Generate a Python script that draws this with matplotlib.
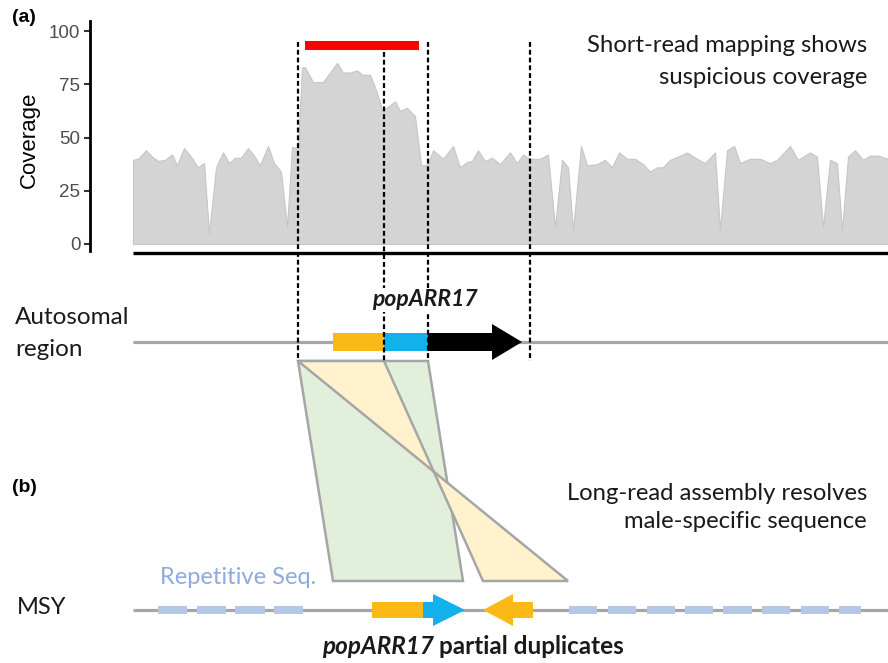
import matplotlib
matplotlib.use("Agg")
import matplotlib.pyplot as plt
from matplotlib.patches import Polygon

# ---------------- data ----------------
# coverage profile (position along region, coverage)
cov_pos = [133, 138, 146, 152, 158, 165, 172, 177, 184, 191, 198, 204, 209, 216,
           223, 229, 235, 241, 248, 254, 260, 268, 274, 281, 287, 292, 298, 302,
           305, 313, 323, 337, 343, 350, 357, 362, 370, 377, 382, 387, 395, 400,
           407, 415, 421, 427, 433, 443, 453, 460, 467, 472, 478, 485, 492, 500,
           510, 517, 523, 530, 540, 548, 555, 562, 568, 573, 581, 587, 597, 605,
           612, 619, 627, 635, 643, 650, 657, 663, 670, 678, 687, 697, 705, 715,
           720, 727, 734, 740, 750, 760, 770, 777, 790, 798, 803, 810, 817, 823,
           830, 837, 842, 848, 855, 863, 870, 878, 888]
cov_val = [39.5, 40, 44, 41, 39, 39.5, 42, 37, 45, 41, 36, 38, 5, 36,
           43, 38, 40.5, 40.5, 45, 41.5, 37, 46, 38, 34, 8, 45.5, 45, 83,
           83, 76, 76, 85, 80.5, 80.5, 81.5, 79.5, 79.5, 71, 63, 64, 67, 62.5,
           64, 60, 37, 37, 44, 40, 46, 36, 38.5, 39, 44, 39, 40.5, 37.5,
           43, 38, 42, 40, 40, 42, 8, 39.5, 36, 6.5, 46, 37, 37.5, 39.5,
           36, 43, 40, 40, 37.5, 34, 36, 36, 39.5, 41, 43, 40, 38, 43,
           6.5, 44, 46, 38, 40, 40, 38, 39.5, 46, 39.5, 41, 43, 41, 8,
           39.5, 38, 6.5, 41, 44, 39.5, 41.5, 41.5, 40]
cov_ticks = [0, 25, 50, 75, 100]
suspicious = [305, 419]          # red bar span
red_bar_level = [91.3, 95.3]

region = [133, 888]
boundaries = [298, 384, 428, 530]
boundary_top = [42, 52, 42, 42]

# autosomal gene popARR17
auto_exon_start = [333, 384]
auto_exon_end = [384, 428]
auto_arrow = [428, 522]

# MSY
rep_start = [158, 197, 235, 274, 569, 608, 647, 685, 723, 762, 801, 839]
rep_end = [187, 226, 265, 303, 597, 636, 675, 713, 752, 790, 829, 861]
msy_fwd_exon = [372, 423]
msy_fwd_arrow = [423, 465]
msy_rev_arrow = [533, 483]

# synteny mapping (autosomal span -> MSY span)
green_auto = [298, 428]
green_msy = [333, 463]
yellow_auto = [298, 384]
yellow_msy = [568, 483]

ORANGE = '#fbb917'
BLUE = '#13b1ec'
GRAY = '#a6a6a6'
FONT = ['Lato', 'DejaVu Sans']
TXT = '#1a1a1a'

fig = plt.figure(figsize=(8.88, 6.63), dpi=100)
H = 663.0
W = 888.0

# coverage axes: y=0 at pixel 244, y=100 at pixel 31
y0_px, y100_px = 244, 31
axc = fig.add_axes([0, (H - y0_px) / H, 1, (y0_px - y100_px) / H])
axc.set_xlim(0, W)
axc.set_ylim(0, 100)
axc.patch.set_visible(False)
for s in ['top', 'right', 'bottom']:
    axc.spines[s].set_visible(False)
axc.spines['left'].set_position(('data', 90))
axc.spines['left'].set_bounds(-3.5, 104.5)
axc.spines['left'].set_linewidth(2.0)
axc.set_xticks([])
axc.set_yticks(cov_ticks)
axc.set_yticklabels([str(t) for t in cov_ticks], family='Liberation Sans',
                    fontsize=13.5, color='#4d4d4d')
axc.tick_params(axis='y', length=4, width=1.5, color='#333333', pad=3)
axc.set_ylabel('Coverage', family='Liberation Sans', fontsize=16)
axc.yaxis.set_label_coords(40 / W, (H - 140) / H, transform=fig.transFigure)

axc.fill_between(cov_pos, cov_val, 0, facecolor='#d4d4d4', edgecolor='#c6c6c6',
                 linewidth=0.8, zorder=1)
axc.fill_between(suspicious, red_bar_level[0], red_bar_level[1], color='#ff0000',
                 linewidth=0, zorder=2, clip_on=False)

# overlay axes in pixel coordinates for the diagram
ax = fig.add_axes([0, 0, 1, 1], zorder=3)
ax.set_xlim(0, W)
ax.set_ylim(H, 0)
ax.axis('off')
ax.patch.set_visible(False)

# baseline under coverage
ax.plot(region, [253, 253], color='black', lw=2.4, solid_capstyle='butt')

# gray chromosome lines
auto_y = 342
msy_y = 610
ax.plot(region, [auto_y, auto_y], color=GRAY, lw=2.3, solid_capstyle='butt', zorder=2)
ax.plot(region, [msy_y, msy_y], color=GRAY, lw=2.3, solid_capstyle='butt', zorder=2)


def gene_arrow(x0, tip, yc, body_h, head_h, head_len, color):
    d = 1 if tip > x0 else -1
    hb = tip - d * head_len
    pts = [(x0, yc - body_h / 2), (hb, yc - body_h / 2), (hb, yc - head_h / 2),
           (tip, yc), (hb, yc + head_h / 2), (hb, yc + body_h / 2), (x0, yc + body_h / 2)]
    ax.add_patch(Polygon(pts, closed=True, facecolor=color, edgecolor='none', zorder=4))


# autosomal gene
for s, e, c in zip(auto_exon_start, auto_exon_end, [ORANGE, BLUE]):
    ax.fill_between([s, e], auto_y - 9, auto_y + 9, color=c, linewidth=0, zorder=4)
gene_arrow(auto_arrow[0], auto_arrow[1], auto_y, 18, 36, 30, 'black')

# MSY features
for s, e in zip(rep_start, rep_end):
    ax.fill_between([s, e], msy_y - 4, msy_y + 4, color='#b4c7e7', linewidth=0, zorder=3)
ax.fill_between(msy_fwd_exon, msy_y - 8, msy_y + 8, color=ORANGE, linewidth=0, zorder=4)
gene_arrow(msy_fwd_arrow[0], msy_fwd_arrow[1], msy_y, 16, 32, 32, BLUE)
gene_arrow(msy_rev_arrow[0], msy_rev_arrow[1], msy_y, 16, 32, 30, ORANGE)

# synteny polygons
top_y, bot_y = 361, 581
green = [(green_auto[0], top_y), (green_auto[1], top_y),
         (green_msy[1], bot_y), (green_msy[0], bot_y)]
ax.add_patch(Polygon(green, closed=True, facecolor='#e2efda', edgecolor=GRAY,
                     lw=1.8, joinstyle='miter', zorder=2))
yellow = [(yellow_auto[0], top_y), (yellow_auto[1], top_y),
          (yellow_msy[1], bot_y), (yellow_msy[0], bot_y)]
ax.add_patch(Polygon(yellow, closed=True, facecolor='#fff2cc', edgecolor=GRAY,
                     lw=1.8, joinstyle='miter', zorder=2.5))

# dashed boundaries
for xb, yt in zip(boundaries, boundary_top):
    ax.plot([xb, xb], [yt, top_y], color='black', lw=1.6,
            linestyle=(0, (2.2, 1.3)), zorder=5)

# texts
ax.text(12, 18, '(a)', family='Liberation Sans', fontweight='bold', fontsize=14,
        ha='left', va='center')
ax.text(12, 488, '(b)', family='Liberation Sans', fontweight='bold', fontsize=14,
        ha='left', va='center')
ax.text(867, 45, 'Short-read mapping shows', family=FONT, fontsize=17.2,
        ha='right', va='center', color=TXT)
ax.text(867, 78, 'suspicious coverage', family=FONT, fontsize=17.2,
        ha='right', va='center', color=TXT)
ax.text(867, 493, 'Long-read assembly resolves', family=FONT, fontsize=17.2,
        ha='right', va='center', color=TXT)
ax.text(867, 522, 'male-specific sequence', family=FONT, fontsize=17.2,
        ha='right', va='center', color=TXT)
ax.text(15, 317, 'Autosomal', family=FONT, fontsize=17.5, ha='left', va='center', color=TXT)
ax.text(15, 349, 'region', family=FONT, fontsize=17.5, ha='left', va='center', color=TXT)
ax.text(425, 300, 'popARR17', family=FONT, fontsize=16.5, fontweight='bold',
        fontstyle='italic', ha='center', va='center', color=TXT, zorder=6,
        bbox=dict(facecolor='white', edgecolor='none', pad=1))
ax.text(17, 607, 'MSY', family=FONT, fontsize=17, ha='left', va='center', color=TXT)
ax.text(160, 578, 'Repetitive Seq.', family=FONT, fontsize=17, ha='left',
        va='center', color='#8faadc')
t1 = ax.text(322, 647, 'popARR17', family=FONT, fontsize=17.5, fontweight='bold',
             fontstyle='italic', ha='left', va='center', color=TXT)
fig.canvas.draw()
bb = t1.get_window_extent()
inv = ax.transData.inverted()
x_end = inv.transform((bb.x1, bb.y0))[0]
ax.text(x_end + 5, 647, 'partial duplicates', family=FONT, fontsize=17.5,
        fontweight='bold', ha='left', va='center', color=TXT)

fig.savefig('out.png', dpi=100)
